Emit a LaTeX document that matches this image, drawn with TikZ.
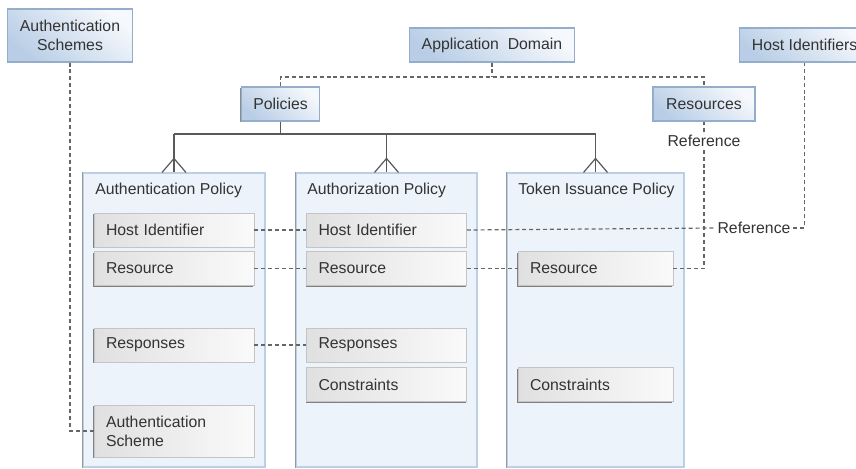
\documentclass[tikz,border=0pt]{standalone}
\usepackage{fontspec}
\setmainfont{Liberation Sans}
\usetikzlibrary{shadows}
\definecolor{hdrdark}{HTML}{B9CEE6}
\definecolor{hdrlight}{HTML}{F5F8FC}
\definecolor{hdredge}{HTML}{93ADCB}
\definecolor{polfill}{HTML}{EDF3FA}
\definecolor{poledge}{HTML}{BBD0E7}
\definecolor{subdark}{HTML}{E0E0E0}
\definecolor{sublight}{HTML}{FAFAFA}
\definecolor{subedge}{HTML}{C4C4C4}
\definecolor{lnkgray}{HTML}{666666}
\definecolor{txtgray}{HTML}{333333}

\begin{document}
\begin{tikzpicture}[x=0.75pt, y=-0.75pt,
  font=\fontsize{11.85}{14.25}\selectfont, text=txtgray,
  hdr/.style={draw=hdredge, line width=0.8pt, top color=hdrlight, bottom color=hdrdark,
    shading angle=-40, minimum height=25.5pt, inner xsep=9pt,
    drop shadow={shadow xshift=-0.6pt, shadow yshift=-0.9pt, fill=black!45, opacity=1}},
  pol/.style={draw=poledge, fill=polfill, line width=0.8pt, minimum width=#1,
    minimum height=220.5pt, inner sep=0pt},
  sub/.style={draw=subedge, left color=subdark, right color=sublight, text width=#1,
    align=left, inner xsep=9pt, minimum height=25.5pt,
    drop shadow={shadow xshift=-0.6pt, shadow yshift=-1pt, fill=black!50, opacity=1}},
  sub/.default=102pt,
  title/.style={anchor=west, inner sep=0pt},
  lbl/.style={inner sep=2pt},
  lnk/.style={draw=lnkgray, line width=0.9pt, dash pattern=on 3pt off 2.2pt},
  tree/.style={draw=black!65, line width=0.9pt}]

\useasboundingbox (0,0) rectangle (856,468);

% Policy containers
\node[pol=136.5pt] (authn) at (174,320) {};
\node[pol=135.75pt] (authz) at (386.5,320) {};
\node[pol=132.75pt] (token) at (595.5,320) {};
\foreach \c in {authn, authz, token}
  \draw[black!40, line width=1pt] (\c.north west) -- (\c.south west);

\node[title] (authn-title) at (95,190) {Authentication Policy};
\node[title] (authz-title) at (307,190) {Authorization Policy};
\node[title] (token-title) at (518,190) {Token Issuance Policy};

% Authentication Policy entries
\node[sub] (an-host) at (174,230) {Host Identifier};
\node[sub] (an-res) at (174,268.5) {Resource};
\node[sub] (an-resp) at (174,345) {Responses};
\node[sub, minimum height=39pt] (an-scheme) at (174,431) {Authentication\\Scheme};

% Authorization Policy entries
\node[sub] (az-host) at (386.5,230) {Host Identifier};
\node[sub] (az-res) at (386.5,268.5) {Resource};
\node[sub] (az-resp) at (386.5,345) {Responses};
\node[sub] (az-cons) at (386.5,384.5) {Constraints};

% Token Issuance Policy entries
\node[sub=98.25pt] (tk-res) at (595.5,268.5) {Resource};
\node[sub=98.25pt] (tk-cons) at (595.5,384.5) {Constraints};

% Top level objects
\node[hdr, minimum width=91.5pt, minimum height=39.75pt, align=center] (authschemes)
  at (70,35.5) {Authentication\\Schemes};
\node[hdr, minimum width=121.5pt] (appdom) at (492,45) {Application\ \ Domain};
\node[hdr, minimum width=97.5pt, anchor=west] (hostids) at (739,45) {Host Identifiers};
\node[hdr, minimum width=56.25pt] (policies) at (280.5,104) {Policies};
\node[hdr, minimum width=76.5pt] (resources) at (704,104) {Resources};

% Domain to policies and resources
\coordinate (dj) at (492,77);
\draw[lnk] (appdom.south) -- (dj);
\draw[lnk] (policies.north) |- (dj) -| (resources.north);

% Policies tree with crow's feet
\coordinate (tj) at (280.5,134);
\draw[tree] (policies.south) -- (tj);
\draw[tree] (authn.north |- tj) -- (token.north |- tj);
\foreach \c in {authn, authz, token} {
  \draw[tree] (\c.north |- tj) -- (\c.north);
  \draw[tree] ([xshift=-9pt]\c.north) -- ([yshift=10.5pt]\c.north) -- ([xshift=9pt]\c.north);
}

% References
\node[lbl] (ref1) at (704,141) {Reference};
\node[lbl] (ref2) at (754,228) {Reference};

\draw[lnk] (an-host.east) -- (az-host.west);
\draw[lnk] (az-host.east) -- (ref2.west);
\draw[lnk] (ref2.east) -| (hostids.south);
\draw[lnk] (an-res.east) -- (az-res.west);
\draw[lnk] (az-res.east) -- (tk-res.west);
\draw[lnk] (tk-res.east) -| (ref1.south);
\draw[lnk] (ref1.north) -- (resources.south);
\draw[lnk] (an-resp.east) -- (az-resp.west);
\draw[lnk] (authschemes.south) |- (an-scheme.west);

\end{tikzpicture}
\end{document}
